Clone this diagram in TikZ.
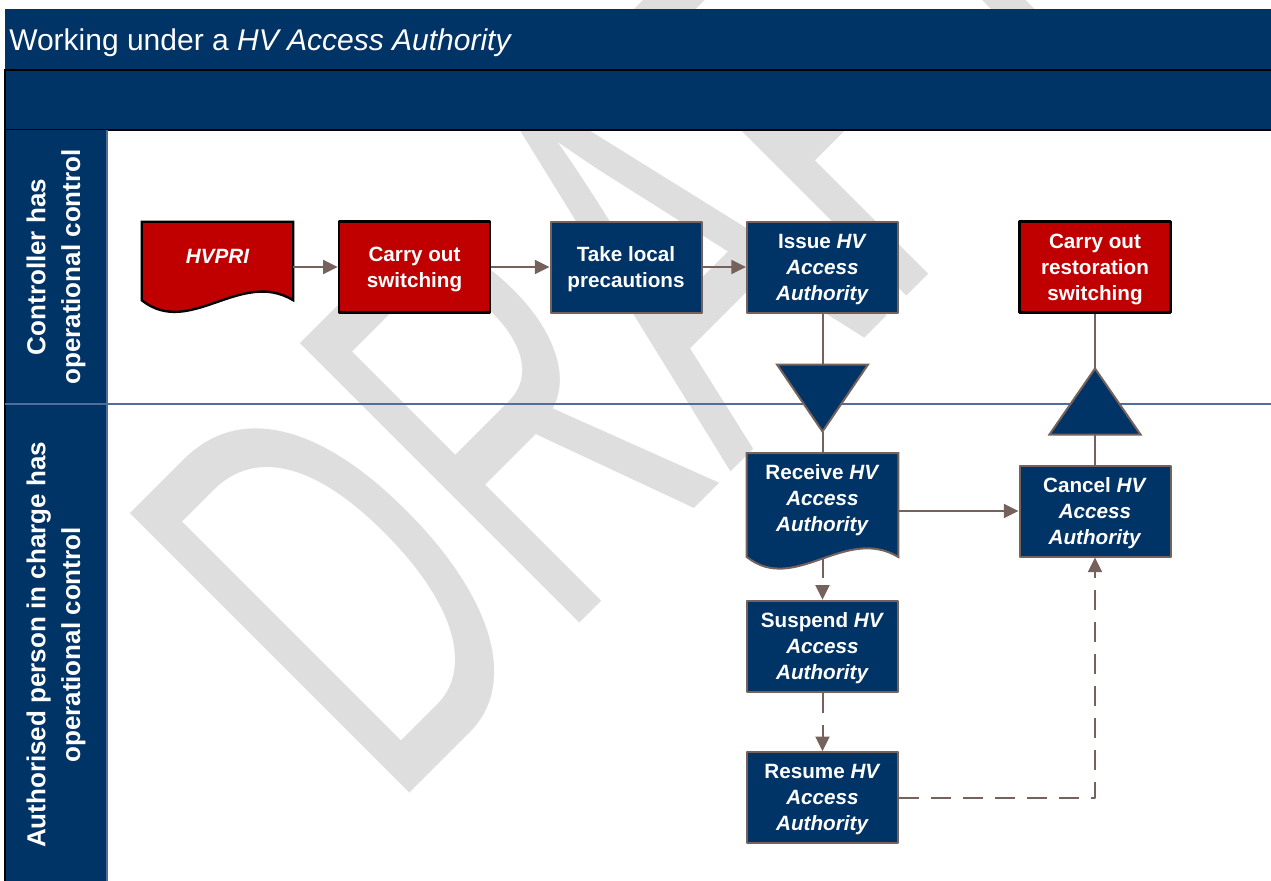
\documentclass[tikz,border=0pt]{standalone}
\usepackage{graphicx}
\usepackage{fontspec}
\setmainfont{Liberation Sans}
\usetikzlibrary{arrows.meta,calc}
\definecolor{navy}{RGB}{0,51,102}
\definecolor{redbox}{RGB}{192,0,0}
\definecolor{linkbrown}{RGB}{118,98,92}
\definecolor{laneline}{RGB}{79,110,155}
\definecolor{wmgray}{RGB}{222,222,222}
\pgfdeclarelayer{back}
\pgfdeclarelayer{docs}
\pgfsetlayers{back,docs,main}
\tikzset{
	boxtext/.style={text=white, align=center, inner sep=0pt, font=\bfseries\fontsize{15.5}{19.5}\selectfont},
	task/.style={boxtext, text depth=-1pt, draw=linkbrown, fill=navy, line width=1.5pt, minimum width=113.25pt, minimum height=68.25pt},
	redtask/.style={task, draw=black, fill=redbox, line width=1.8pt},
	doctext/.style={boxtext, minimum width=113.25pt},
	bluedoc/.style={draw=linkbrown, fill=navy, line width=1.5pt},
	reddoc/.style={draw=black, fill=redbox, line width=1.8pt},
	handtri/.style={draw=linkbrown, fill=navy, line width=1.5pt, line join=miter},
	link/.style={draw=linkbrown, line width=1.5pt},
	flow/.style={link, -{Triangle[length=11pt,width=10.5pt]}},
	dflow/.style={flow, dash pattern=on 15pt off 9pt},
	lanetext/.style={text=white, rotate=90, align=center, font=\bfseries\fontsize{19.5}{26}\selectfont},
	wmtext/.style={text=wmgray, rotate=45, anchor=base west, inner sep=0pt, font=\fontsize{431}{431}\selectfont}
}
% document outline with a wavy bottom
\newcommand{\docpath}[3]{%
	\path[#3] (#1.north west) -- (#1.north east) -- ($(#1.south east)+(0,#2)$)
		.. controls +(-53,-32) and +(48,38) .. ($(#1.south west)+(0,#2)$) -- cycle;}
\begin{document}
\begin{tikzpicture}[x=0.75pt, y=-0.75pt, line join=round]
	\useasboundingbox (0,0) rectangle (1271,881);
	\begin{pgfonlayer}{back}
		% watermark
		\node[wmtext] (draft) at (390,813) {\scalebox{0.58}[1]{DRAFT}};
		% heading bars
		\fill[navy] (5,9) rectangle (1275,70);
		\draw[fill=navy, line width=1.5pt] (5,70) rectangle (1275,130);
		\node[anchor=west, text=white, inner sep=0pt, font=\fontsize{22.5}{27}\selectfont] (title) at (9,42.5) {Working under a \textit{HV Access Authority}};
		% lane headers
		\fill[navy] (5,130) rectangle (107,885);
		\draw[laneline, line width=1pt] (107,130) -- (107,885);
		\draw[black, line width=1pt] (5,130) -- (5,885);
		\draw[laneline, line width=1.5pt] (5,404) -- (1275,404);
		\node[lanetext] (lane1) at (56,267) {Controller has\\operational control};
		\node[lanetext] (lane2) at (56,645) {Authorised person in charge has\\operational control};
	\end{pgfonlayer}
	% controller lane
	\node[doctext] (hvpri) at (217.5,256.7) [minimum height=52pt] {\itshape HVPRI};
	\node[redtask] (carry) at (414.5,267) {Carry out\\switching};
	\node[task] (take) at (626,267) {Take local\\precautions};
	\node[task] (issue) at (822.5,267) {Issue \textit{HV}\\\textit{Access}\\\textit{Authority}};
	\node[redtask] (restore) at (1095,267) {Carry out\\restoration\\switching};
	% authorised person lane
	\node[doctext, text depth=-1pt] (receive) at (822.5,497.7) [minimum height=66.6pt] {Receive \textit{HV}\\\textit{Access}\\\textit{Authority}};
	\node[task] (suspend) at (822.5,646.3) {Suspend \textit{HV}\\\textit{Access}\\\textit{Authority}};
	\node[task] (resume) at (822.5,797.8) {Resume \textit{HV}\\\textit{Access}\\\textit{Authority}};
	\node[task] (cancel) at (1095,511) {Cancel \textit{HV}\\\textit{Access}\\\textit{Authority}};
	\begin{pgfonlayer}{docs}
		\docpath{hvpri}{8.6}{reddoc}
		\docpath{receive}{14.6}{bluedoc}
	\end{pgfonlayer}
	\coordinate (receive-b) at ($(receive.south)+(0,16)$);
	% hand-over triangles
	\coordinate (downtop) at ($(issue.south)+(0,51)$);
	\coordinate (downtip) at ($(downtop)+(0,67)$);
	\path[handtri] (downtop) ++(-45.5,0) -- ++(91,0) -- (downtip) -- cycle;
	\coordinate (upbase) at ($(cancel.north)+(0,-30)$);
	\coordinate (uptip) at ($(upbase)+(0,-66)$);
	\path[handtri] (upbase) ++(-45.5,0) -- ++(91,0) -- (uptip) -- cycle;
	% connectors
	\draw[flow] (hvpri.east |- carry.west) -- (carry.west);
	\draw[flow] (carry.east) -- (take.west);
	\draw[flow] (take.east) -- (issue.west);
	\draw[link] (issue.south) -- (downtop);
	\draw[link] (downtip) -- (receive.north);
	\draw[flow] (receive.east |- cancel.west) -- (cancel.west);
	\draw[dflow] (receive-b) -- (suspend.north);
	\draw[dflow] (suspend.south) -- (resume.north);
	\draw[dflow] (resume.east) -| (cancel.south);
	\draw[link] (cancel.north) -- (upbase);
	\draw[link] (uptip) -- (restore.south);
\end{tikzpicture}
\end{document}
